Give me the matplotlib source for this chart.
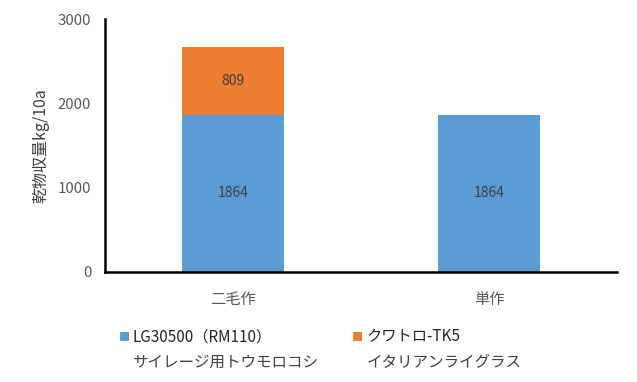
import matplotlib
matplotlib.use("Agg")
import matplotlib.pyplot as plt

plt.rcParams['font.family'] = ['Noto Sans CJK JP', 'DejaVu Sans']

categories = ['二毛作', '単作']
corn = [1864, 1864]
grass = [809, 0]
series_names = ['LG30500（RM110）', 'クワトロ-TK5']
series_sub = ['サイレージ用トウモロコシ', 'イタリアンライグラス']
colors = ['#5B9BD5', '#ED7D31']

fig = plt.figure(figsize=(6.37, 3.82), dpi=100)
ax = fig.add_axes([0.165, 0.288, 0.804, 0.662])

x = range(len(categories))
ax.bar(x, corn, width=0.4, color=colors[0])
ax.bar(x, grass, width=0.4, bottom=corn, color=colors[1])

# value labels in the middle of each segment
for i in x:
    ax.text(i, corn[i] / 2, str(corn[i]), ha='center', va='center', fontsize=10, color='#404040')
    if grass[i] > 0:
        ax.text(i, corn[i] + grass[i] / 2, str(grass[i]), ha='center', va='center', fontsize=10, color='#404040')

ax.set_xlim(-0.5, 1.5)
ax.set_ylim(0, 3000)
ax.set_yticks([0, 1000, 2000, 3000])
ax.set_xticks(list(x))
ax.set_xticklabels(categories)
ax.tick_params(axis='y', length=0, labelsize=10.8, colors='#595959', pad=10)
ax.tick_params(axis='x', length=0, labelsize=11, colors='#595959', pad=14)
for s in ['top', 'right']:
    ax.spines[s].set_visible(False)
for s in ['left', 'bottom']:
    ax.spines[s].set_linewidth(1.8)
    ax.spines[s].set_color('black')
ax.set_ylabel('乾物収量kg/10a', fontsize=11.5, color='#404040', labelpad=6)

# legend drawn by hand: square + name, sub-name on second line
leg_x = [0.186, 0.553]
for i in range(2):
    fig.text(leg_x[i], 0.118, '■', color=colors[i], fontsize=8, va='center', ha='left')
    fig.text(leg_x[i] + 0.022, 0.118, series_names[i], fontsize=11, color='#262626', va='center', ha='left')
    fig.text(leg_x[i] + 0.022, 0.052, series_sub[i], fontsize=11.2, color='#404040', va='center', ha='left')

fig.savefig('out.png', dpi=100)
